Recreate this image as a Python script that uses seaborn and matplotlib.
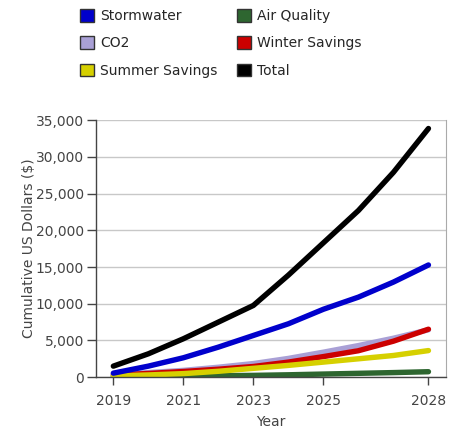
import matplotlib
matplotlib.use("Agg")
import matplotlib.pyplot as plt
from matplotlib.patches import Patch
import pandas as pd
import seaborn as sns

years = [2019, 2020, 2021, 2022, 2023, 2024, 2025, 2026, 2027, 2028]

# cumulative dollars
stormwater = [545, 1500, 2640, 4090, 5680, 7270, 9250, 10900, 12950, 15280]
air_quality = [80, 110, 150, 190, 240, 320, 420, 520, 620, 740]
co2 = [380, 620, 920, 1350, 1850, 2550, 3400, 4300, 5300, 6450]
winter = [280, 500, 770, 1080, 1450, 2050, 2800, 3600, 4900, 6530]
summer = [170, 300, 480, 800, 1200, 1600, 2050, 2500, 2950, 3620]
total = [1500, 3180, 5230, 7500, 9770, 13900, 18300, 22700, 27900, 33870]

series = {
    "Stormwater": stormwater,
    "Air Quality": air_quality,
    "CO2": co2,
    "Winter Savings": winter,
    "Summer Savings": summer,
    "Total": total,
}
colors = {
    "Stormwater": "#0000cc",
    "Air Quality": "#2e6630",
    "CO2": "#a9a0d6",
    "Winter Savings": "#cc0000",
    "Summer Savings": "#d6d000",
    "Total": "#000000",
}
draw_order = ["Air Quality", "CO2", "Winter Savings", "Summer Savings", "Stormwater", "Total"]
legend_order = ["Stormwater", "CO2", "Summer Savings", "Air Quality", "Winter Savings", "Total"]

rows = []
for name in draw_order:
    for y, v in zip(years, series[name]):
        rows.append({"year": y, "value": v, "series": name})
df = pd.DataFrame(rows)

sns.set_style("white")
plt.rcParams["font.family"] = ["DejaVu Sans"]

fig = plt.figure(figsize=(4.5, 4.34), dpi=100)
ax = fig.add_axes([0.213, 0.131, 0.778, 0.592])

sns.lineplot(data=df, x="year", y="value", hue="series", hue_order=draw_order,
             palette=colors, linewidth=3.9, solid_capstyle="round",
             solid_joinstyle="round", legend=False, ax=ax)

ax.set_xlim(2018.5, 2028.5)
ax.set_ylim(0, 35000)
ax.set_xticks([2019, 2021, 2023, 2025, 2028])
ax.set_yticks(range(0, 35001, 5000))
ax.yaxis.set_major_formatter(matplotlib.ticker.FuncFormatter(lambda v, p: f"{int(v):,}"))
ax.yaxis.grid(True, color="#c8c8c8", linewidth=1)
ax.set_axisbelow(True)

for s in ["left", "bottom"]:
    ax.spines[s].set_color("#444444")
    ax.spines[s].set_linewidth(1)
ax.spines["right"].set_color("#aaaaaa")
ax.spines["top"].set_visible(False)

ax.tick_params(axis="both", direction="out", width=1, color="#444444",
               labelsize=10, labelcolor="#444444", left=True, bottom=True)
ax.tick_params(axis="y", length=6.5, pad=2)
ax.tick_params(axis="x", length=6, pad=6)
ax.set_xlabel("Year", fontsize=10, color="#444444", labelpad=5)
ax.set_ylabel("Cumulative US Dollars ($)", fontsize=10, color="#444444", labelpad=0)

handles = [Patch(facecolor=colors[n], edgecolor="#333333", linewidth=1) for n in legend_order]
fig.legend(handles, legend_order, loc="upper left", bbox_to_anchor=(0.16, 0.998),
           ncol=2, frameon=False, fontsize=10, handlelength=1.0, handleheight=1.0,
           handletextpad=0.45, columnspacing=1.4, labelspacing=0.95,
           borderaxespad=0.2)

fig.savefig("out.png", dpi=100)
